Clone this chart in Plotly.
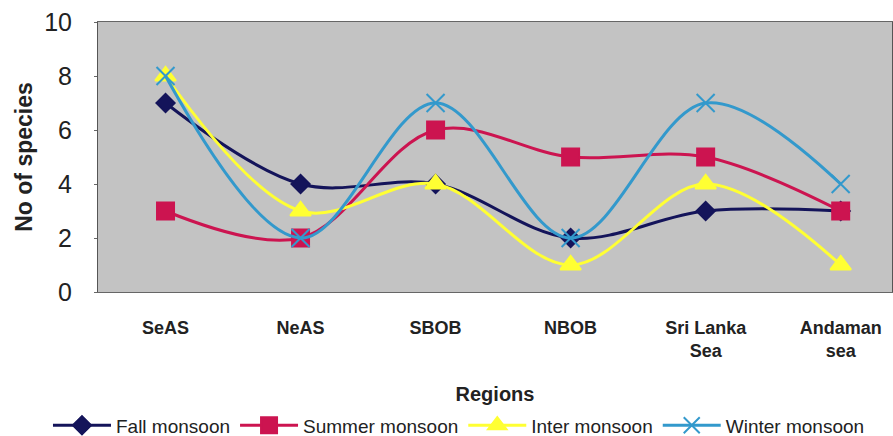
import plotly.graph_objects as go

regions = ["SeAS", "NeAS", "SBOB", "NBOB", "Sri Lanka<br>Sea", "Andaman<br>sea"]
fall = [7, 4, 4, 2, 3, 3]
summer = [3, 2, 6, 5, 5, 3]
inter = [8, 3, 4, 1, 4, 1]
winter = [8, 2, 7, 2, 7, 4]

series = [
    ("Fall monsoon", fall, "#14145a", "diamond", 14),
    ("Summer monsoon", summer, "#cc1450", "square", 17),
    ("Inter monsoon", inter, "#ffff33", "triangle-up", 18),
    ("Winter monsoon", winter, "#3399cc", "x-thin-open", 18),
]

fig = go.Figure()
for name, vals, col, sym, sz in series:
    fig.add_trace(go.Scatter(
        x=list(range(len(regions))), y=vals, name=name, mode="lines+markers",
        line=dict(color=col, width=3, shape="spline", smoothing=1.0),
        marker=dict(symbol=sym, size=sz, color=col, line=dict(color=col, width=2)),
    ))

fig.update_layout(
    width=893, height=436,
    margin=dict(l=98, r=1, t=22, b=144, autoexpand=False),
    paper_bgcolor="white", plot_bgcolor="#c3c3c3",
    font=dict(family="Liberation Sans, Arial", color="#222"),
    showlegend=True,
    legend=dict(orientation="h", x=-0.063, xanchor="left", y=-0.494, yanchor="middle",
                font=dict(family="Liberation Sans", size=19, color="#222"),
                itemwidth=58, tracegroupgap=0, bgcolor="rgba(0,0,0,0)"),
)
fig.update_xaxes(
    tickmode="array", tickvals=list(range(len(regions))),
    ticktext=["<b>%s</b>" % t for t in regions],
    range=[-0.5, 5.38], showgrid=False, zeroline=False,
    showline=True, linecolor="#666", mirror=True, linewidth=1,
    tickfont=dict(size=18, family="Liberation Sans", color="#222"),
    ticks="", ticklabelstandoff=19,
    title=dict(text="<b>Regions</b>", font=dict(size=20, color="#222"), standoff=26),
)
fig.update_yaxes(
    range=[0, 10], dtick=2, showgrid=False, zeroline=False,
    showline=True, linecolor="#555", mirror=True, linewidth=1,
    tickfont=dict(size=25, color="#222"), ticks="outside", ticklen=3, tickcolor="#666",
    ticklabelstandoff=17,
    title=dict(text="<b>No of species</b>", font=dict(size=23, color="#222"), standoff=5),
)
fig.write_html("out.html")
